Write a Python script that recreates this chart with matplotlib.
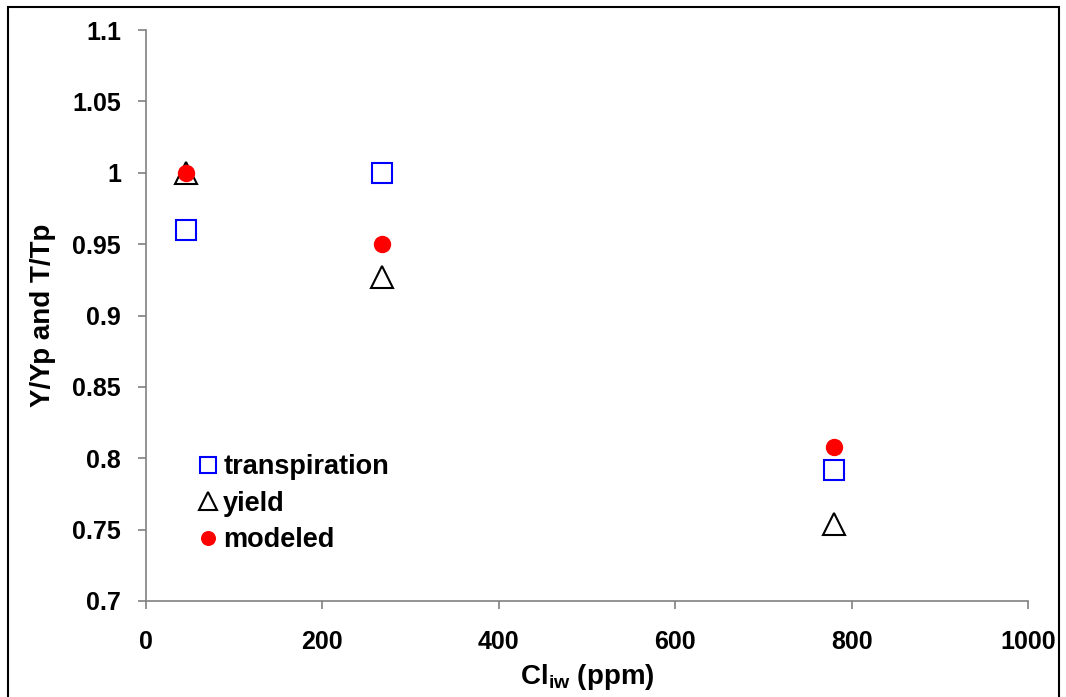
import matplotlib
matplotlib.use("Agg")
import matplotlib.pyplot as plt
from matplotlib.patches import Rectangle

# Irrigation-water chloride (ppm) and relative yield / transpiration
cl_transpiration = [45, 268, 780]
transpiration = [0.96, 1.0, 0.792]
cl_yield = [45, 268, 780]
yield_rel = [1.0, 0.927, 0.754]
cl_modeled = [45, 268, 780]
modeled = [1.0, 0.95, 0.808]

x_ticks = [0, 200, 400, 600, 800, 1000]
y_ticks = [0.7, 0.75, 0.8, 0.85, 0.9, 0.95, 1.0, 1.05, 1.1]
y_tick_labels = ["0.7", "0.75", "0.8", "0.85", "0.9", "0.95", "1", "1.05", "1.1"]

plt.rcParams["font.family"] = ["Liberation Sans", "DejaVu Sans"]
plt.rcParams["font.weight"] = "bold"
plt.rcParams["mathtext.default"] = "regular"

fig = plt.figure(figsize=(10.66, 6.97), dpi=100)
ax = fig.add_axes([146 / 1066, 1 - 601 / 697, (1028 - 146) / 1066, (601 - 30) / 697])

ax.plot(cl_transpiration, transpiration, linestyle="none", marker="s", markersize=14,
        markerfacecolor="none", markeredgecolor="#0000ff", markeredgewidth=1.5,
        label="transpiration", zorder=3)
ax.plot(cl_yield, yield_rel, linestyle="none", marker="^", markersize=16,
        markerfacecolor="none", markeredgecolor="black", markeredgewidth=1.5,
        label="yield", zorder=3)
ax.plot(cl_modeled, modeled, linestyle="none", marker="o", markersize=11.5,
        markerfacecolor="#ff0000", markeredgecolor="#ff0000",
        label="modeled", zorder=4)

ax.set_xlim(0, 1000)
ax.set_ylim(0.7, 1.1)
ax.set_xticks(x_ticks)
ax.set_yticks(y_ticks)
ax.set_yticklabels(y_tick_labels)

for side in ("top", "right"):
    ax.spines[side].set_visible(False)
for side in ("left", "bottom"):
    ax.spines[side].set_color("#808080")
    ax.spines[side].set_linewidth(1.2)
ax.tick_params(axis="both", direction="out", length=6, width=1.2, color="#808080",
               labelsize=18)
ax.tick_params(axis="y", pad=12)
ax.tick_params(axis="x", pad=15)
for lab in ax.get_xticklabels() + ax.get_yticklabels():
    lab.set_fontweight("bold")

ax.set_xlabel("Cl$_{iw}$ (ppm)", fontsize=20, fontweight="bold", labelpad=6)
ax.set_ylabel("Y/Yp and T/Tp", fontsize=20, fontweight="bold", labelpad=12)

leg = ax.legend(loc="lower left", bbox_to_anchor=(0.046, 0.065), frameon=False,
                fontsize=19.5, handlelength=0.8, handletextpad=0.15, labelspacing=0.38,
                markerscale=0.85, borderaxespad=0)
for t in leg.get_texts():
    t.set_fontweight("bold")

# Outer frame around the figure
fig.patches.append(Rectangle((8 / 1066, -0.01), (1059 - 8) / 1066, 1 - 7 / 697 + 0.01,
                             transform=fig.transFigure, fill=False,
                             edgecolor="black", linewidth=1.5))

fig.savefig("out.png", dpi=100)
